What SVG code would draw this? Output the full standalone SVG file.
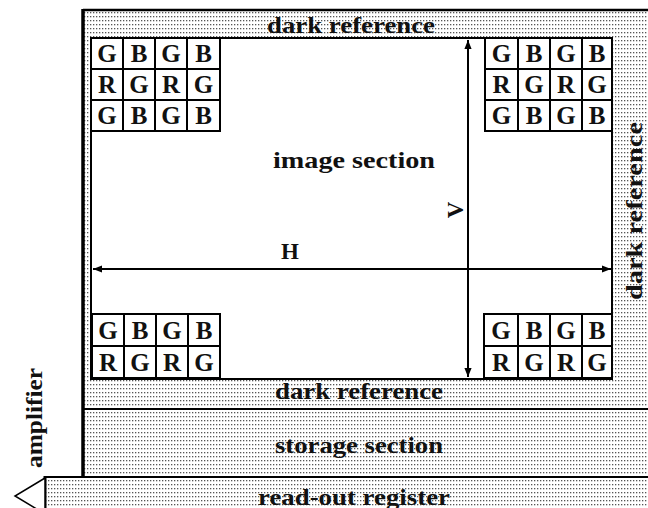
<svg xmlns="http://www.w3.org/2000/svg" width="648" height="508" viewBox="0 0 648 508">
<defs>
<pattern id="dots" width="3" height="4" patternUnits="userSpaceOnUse">
<rect width="3" height="4" fill="#fff"/>
<rect x="0" y="0" width="1.3" height="1.3" fill="#555"/>
</pattern>
<marker id="ah" viewBox="0 0 10 10" refX="10" refY="5" markerWidth="9" markerHeight="9" markerUnits="userSpaceOnUse" orient="auto-start-reverse">
<path d="M0,1 L10,5 L0,9 z" fill="#000"/>
</marker>
</defs>
<style>
.lbl{font-family:"Liberation Serif","Times New Roman",serif;font-weight:bold;font-size:23px;fill:#111;}
.cell{font-family:"Liberation Serif","Times New Roman",serif;font-weight:bold;font-size:25px;fill:#111;text-anchor:middle;}
.grid rect{fill:#fff;stroke:#000;stroke-width:2;}
.ln{stroke:#000;fill:none;}
</style>
<rect width="648" height="508" fill="#fff"/>

<g id="dark-reference">
<rect x="83" y="10" width="566" height="399" fill="url(#dots)"/>
<line class="ln" x1="83" y1="10" x2="648" y2="10" stroke-width="2.5"/>
<text class="lbl" x="267" y="33" textLength="168" lengthAdjust="spacingAndGlyphs">dark reference</text>
<text class="lbl" x="275" y="399" textLength="168" lengthAdjust="spacingAndGlyphs">dark reference</text>
<text class="lbl" transform="translate(642,300) rotate(-90)" textLength="178" lengthAdjust="spacingAndGlyphs">dark reference</text>
</g>

<g id="image-section">
<rect x="91" y="38" width="521" height="341" fill="#fff" stroke="#000" stroke-width="2"/>
<text class="lbl" x="273" y="168" textLength="162" lengthAdjust="spacingAndGlyphs">image section</text>
</g>

<g id="storage-section">
<rect x="83" y="409" width="566" height="68" fill="url(#dots)"/>
<line class="ln" x1="83" y1="409" x2="648" y2="409" stroke-width="2"/>
<text class="lbl" x="275" y="453" textLength="168" lengthAdjust="spacingAndGlyphs">storage section</text>
</g>

<g id="read-out-register">
<rect x="45" y="477" width="604" height="40" fill="url(#dots)"/>
<line class="ln" x1="45" y1="477" x2="648" y2="477" stroke-width="2"/>
<line class="ln" x1="45" y1="476" x2="45" y2="508" stroke-width="3"/>
<text class="lbl" x="258" y="505" textLength="192" lengthAdjust="spacingAndGlyphs">read-out register</text>
</g>

<line class="ln" x1="83" y1="9" x2="83" y2="478" stroke-width="3.5"/>

<g id="amplifier">
<polygon points="45,478 15,496 45,514" fill="#fff" stroke="#000" stroke-width="1.5"/>
<text class="lbl" transform="translate(42,468) rotate(-90)" textLength="100" lengthAdjust="spacingAndGlyphs">amplifier</text>
</g>

<g id="grid-top-left" class="grid">
<rect x="91" y="38" width="32" height="31"/><rect x="123" y="38" width="32" height="31"/><rect x="155" y="38" width="32" height="31"/><rect x="187" y="38" width="33" height="31"/>
<rect x="91" y="69" width="32" height="31"/><rect x="123" y="69" width="32" height="31"/><rect x="155" y="69" width="32" height="31"/><rect x="187" y="69" width="33" height="31"/>
<rect x="91" y="100" width="32" height="31"/><rect x="123" y="100" width="32" height="31"/><rect x="155" y="100" width="32" height="31"/><rect x="187" y="100" width="33" height="31"/>
<text class="cell" x="107" y="62">G</text><text class="cell" x="139" y="62">B</text><text class="cell" x="171" y="62">G</text><text class="cell" x="203.500" y="62">B</text>
<text class="cell" x="107" y="93">R</text><text class="cell" x="139" y="93">G</text><text class="cell" x="171" y="93">R</text><text class="cell" x="203.500" y="93">G</text>
<text class="cell" x="107" y="124">G</text><text class="cell" x="139" y="124">B</text><text class="cell" x="171" y="124">G</text><text class="cell" x="203.500" y="124">B</text>
</g>

<g id="grid-top-right" class="grid">
<rect x="485" y="38" width="33" height="31"/><rect x="518" y="38" width="32" height="31"/><rect x="550" y="38" width="32" height="31"/><rect x="582" y="38" width="30" height="31"/>
<rect x="485" y="69" width="33" height="31"/><rect x="518" y="69" width="32" height="31"/><rect x="550" y="69" width="32" height="31"/><rect x="582" y="69" width="30" height="31"/>
<rect x="485" y="100" width="33" height="31"/><rect x="518" y="100" width="32" height="31"/><rect x="550" y="100" width="32" height="31"/><rect x="582" y="100" width="30" height="31"/>
<text class="cell" x="501.500" y="62">G</text><text class="cell" x="534" y="62">B</text><text class="cell" x="566" y="62">G</text><text class="cell" x="597" y="62">B</text>
<text class="cell" x="501.500" y="93">R</text><text class="cell" x="534" y="93">G</text><text class="cell" x="566" y="93">R</text><text class="cell" x="597" y="93">G</text>
<text class="cell" x="501.500" y="124">G</text><text class="cell" x="534" y="124">B</text><text class="cell" x="566" y="124">G</text><text class="cell" x="597" y="124">B</text>
</g>

<g id="grid-bottom-left" class="grid">
<rect x="92" y="314" width="32" height="32"/><rect x="124" y="314" width="32" height="32"/><rect x="156" y="314" width="32" height="32"/><rect x="188" y="314" width="32" height="32"/>
<rect x="92" y="346" width="32" height="32"/><rect x="124" y="346" width="32" height="32"/><rect x="156" y="346" width="32" height="32"/><rect x="188" y="346" width="32" height="32"/>
<text class="cell" x="108" y="339">G</text><text class="cell" x="140" y="339">B</text><text class="cell" x="172" y="339">G</text><text class="cell" x="204" y="339">B</text>
<text class="cell" x="108" y="371">R</text><text class="cell" x="140" y="371">G</text><text class="cell" x="172" y="371">R</text><text class="cell" x="204" y="371">G</text>
</g>

<g id="grid-bottom-right" class="grid">
<rect x="484" y="314" width="34" height="32"/><rect x="518" y="314" width="32" height="32"/><rect x="550" y="314" width="32" height="32"/><rect x="582" y="314" width="30" height="32"/>
<rect x="484" y="346" width="34" height="32"/><rect x="518" y="346" width="32" height="32"/><rect x="550" y="346" width="32" height="32"/><rect x="582" y="346" width="30" height="32"/>
<text class="cell" x="501" y="339">G</text><text class="cell" x="534" y="339">B</text><text class="cell" x="566" y="339">G</text><text class="cell" x="597" y="339">B</text>
<text class="cell" x="501" y="371">R</text><text class="cell" x="534" y="371">G</text><text class="cell" x="566" y="371">R</text><text class="cell" x="597" y="371">G</text>
</g>

<g id="connectors">
<line class="ln" x1="468" y1="40" x2="468" y2="377" stroke-width="2" marker-start="url(#ah)" marker-end="url(#ah)"/>
<line class="ln" x1="93" y1="269" x2="611" y2="269" stroke-width="2" marker-start="url(#ah)" marker-end="url(#ah)"/>
</g>

<g id="labels">
<text class="lbl" x="290" y="259" text-anchor="middle">H</text>
<text class="lbl" transform="translate(463,210) rotate(-90)" text-anchor="middle">V</text>
</g>
</svg>
